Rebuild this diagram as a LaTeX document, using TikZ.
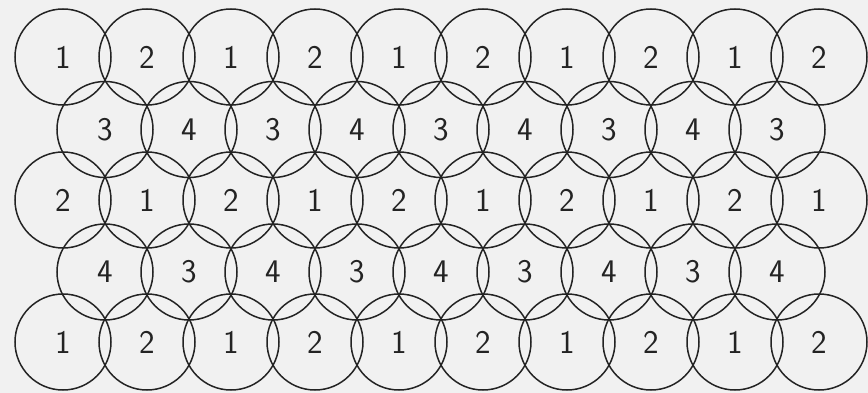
\documentclass[tikz,border=0pt]{standalone}
\usepackage{xcolor}
\definecolor{inkgray}{RGB}{35,35,35}
\definecolor{papergray}{RGB}{241,241,241}
\usepackage{tikz}
\usetikzlibrary{positioning}
\tikzset{
  cell/.style={circle,draw=inkgray,line width=1.5pt,minimum size=96pt,
    inner sep=0pt,text=inkgray,font=\sffamily\fontsize{33}{33}\selectfont},
}
\begin{document}
\begin{tikzpicture}[x=1pt,y=-1pt]
  \fill[papergray] (0,0) rectangle (868,393);
  \useasboundingbox (0,0) rectangle (868,393);
  % Filas de diez
  \foreach \r/\y/\a/\b in {1/57/1/2,3/200/2/1,5/342/1/2}{
    \foreach \c [evaluate=\c as \x using 63+84*(\c-1)] in {1,...,10}{
      \node[cell] (c\r-\c) at (\x,\y) {\ifodd\c\relax\a\else\b\fi};
    }
  }
  % Filas de nueve, desplazadas
  \foreach \r/\y/\a/\b in {2/129.5/3/4,4/272/4/3}{
    \foreach \c [evaluate=\c as \x using 105+84*(\c-1)] in {1,...,9}{
      \node[cell] (c\r-\c) at (\x,\y) {\ifodd\c\relax\a\else\b\fi};
    }
  }
\end{tikzpicture}
\end{document}
